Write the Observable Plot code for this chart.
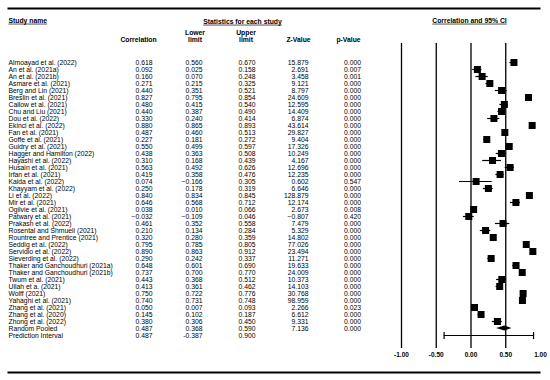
<!DOCTYPE html>
<html><head><meta charset="utf-8">
<script src="https://cdn.jsdelivr.net/npm/d3@7"></script>
<script src="https://cdn.jsdelivr.net/npm/@observablehq/plot@0.6"></script>
<style>
body{margin:0;background:#fff}
svg{font-family:"Liberation Sans",Arial,sans-serif}
</style>
</head><body><div id="chart"></div>
<script>
const studies = [
  "Almoayad et al. (2022)","An et al. (2021a)","An et al. (2021b)","Asmare et al. (2021)",
  "Berg and Lin (2021)","Breslin et al. (2021)","Callow et al. (2021)","Chu and Liu (2021)",
  "Dou et al. (2022)","Ekinci et al. (2022)","Fan et al. (2021)","Goffe et al. (2021)",
  "Guidry et al. (2021)","Hagger and Hamilton (2022)","Hayashi et al. (2022)","Husain et al. (2021)",
  "Irfan et al. (2021)","Kaida et al. (2022)","Khayyam et al. (2022)","Li et al. (2022)",
  "Mir et al. (2021)","Ogilvie et al. (2021)","Patwary et al. (2021)","Prakash et al. (2022)",
  "Rosental and Shmueli (2021)","Rountree and Prentice (2021)","Seddig et al. (2022)","Servidio et al. (2022)",
  "Sieverding et al. (2022)","Thaker and Ganchoudhuri (2021a)","Thaker and Ganchoudhuri (2021b)","Twum et al. (2021)",
  "Ullah et a. (2021)","Wolff (2021)","Yahaghi et al. (2021)","Zhang et al. (2021)",
  "Zhang et al. (2020)","Zhong et al. (2022)"
];
const correlation = [0.618,0.092,0.160,0.271,0.440,0.827,0.480,0.440,0.330,0.880,0.487,0.227,0.550,0.438,0.310,0.563,0.419,0.074,0.250,0.840,0.646,0.038,-0.032,0.461,0.210,0.320,0.795,0.890,0.290,0.648,0.737,0.443,0.413,0.750,0.740,0.050,0.145,0.380];
const lower = [0.560,0.025,0.070,0.215,0.351,0.795,0.415,0.387,0.240,0.865,0.460,0.181,0.499,0.363,0.168,0.492,0.358,-0.166,0.178,0.834,0.568,0.010,-0.109,0.352,0.134,0.280,0.785,0.863,0.242,0.601,0.700,0.368,0.361,0.722,0.731,0.007,0.102,0.306];
const upper = [0.670,0.158,0.248,0.325,0.521,0.854,0.540,0.490,0.414,0.893,0.513,0.272,0.597,0.508,0.439,0.626,0.476,0.305,0.319,0.845,0.712,0.066,0.046,0.558,0.284,0.359,0.805,0.912,0.337,0.690,0.770,0.512,0.462,0.776,0.748,0.093,0.187,0.450];
const zValue = [15.879,2.691,3.458,9.121,8.797,24.609,12.595,14.409,6.874,43.614,29.827,9.404,17.326,10.249,4.167,12.696,12.235,0.602,6.646,128.879,12.174,2.673,-0.807,7.479,5.329,14.802,77.026,23.494,11.271,19.633,24.009,10.373,14.103,30.768,98.959,2.266,6.612,9.331];
const pValue = [0.000,0.007,0.001,0.000,0.000,0.000,0.000,0.000,0.000,0.000,0.000,0.000,0.000,0.000,0.000,0.000,0.000,0.547,0.000,0.000,0.000,0.008,0.420,0.000,0.000,0.000,0.000,0.000,0.000,0.000,0.000,0.000,0.000,0.000,0.000,0.023,0.000,0.000];
const pooled = {name: "Random Pooled", r: 0.487, lo: 0.368, hi: 0.590, z: 7.136, p: 0.000};
const prediction = {name: "Prediction Interval", r: 0.487, lo: -0.387, hi: 0.900, z: null, p: null, hyphen: true};
const gridValues = [-1, -0.5, 0, 0.5];
const xTicks = [-1, -0.5, 0, 0.5, 1];

const rows = studies.map((name, i) => ({name, r: correlation[i], lo: lower[i], hi: upper[i], z: zValue[i], p: pValue[i]}));
const allRows = [...rows, pooled, prediction];

const fmt = (v, d) => v == null ? "" : (d.hyphen ? v.toFixed(3) : v.toFixed(3).replace("-", "\u2212"));
const FS = 6.8;
const col = (field, dx, anchor) => Plot.text(allRows, {
  y: "name", text: d => fmt(d[field], d), frameAnchor: "left", dx, textAnchor: anchor, fontSize: FS, fill: "#000"
});
const head = (label, dx, dy, extra = {}) => Plot.text([label], {
  frameAnchor: "top-left", lineAnchor: "middle", dx, dy, textAnchor: "middle", fontSize: FS, fontWeight: "bold", fill: "#000", ...extra
});
const tickSymbol = {draw(ctx, size) { const h = Math.sqrt(size) / 2; ctx.moveTo(0, -h); ctx.lineTo(0, h); }};

function pooledDiamond(index, scales) {
  const {x, y} = scales;
  const cy = y(pooled.name), h = 2.6;
  const pts = [[x(pooled.lo), cy], [x(pooled.r), cy - h], [x(pooled.hi), cy], [x(pooled.r), cy + h]];
  return d3.create("svg:path").attr("d", "M" + pts.map(p => p.join(",")).join("L") + "Z").attr("fill", "#000").node();
}

const chart = Plot.plot({
  width: 550, height: 380,
  marginLeft: 401, marginRight: 10, marginTop: 50.5, marginBottom: 34.5,
  style: {fontFamily: "Liberation Sans, Arial, sans-serif", fontSize: "6.8px", background: "#fff", color: "#000"},
  x: {domain: [-1, 1]},
  y: {type: "point", domain: allRows.map(d => d.name), padding: 0, axis: null},
  marks: [
    Plot.frame({anchor: "top", insetTop: -42.5, insetLeft: -393, insetRight: 1, stroke: "#000", strokeWidth: 2}),
    Plot.frame({anchor: "bottom", insetBottom: -26.5, insetLeft: -393, insetRight: 1, stroke: "#000", strokeWidth: 2}),
    Plot.ruleX(gridValues, {stroke: "#000", strokeWidth: 1.3, insetTop: -7.5, insetBottom: -2.5}),
    Plot.ruleY(rows, {y: "name", x1: "lo", x2: "hi", stroke: "#000", strokeWidth: 1.2}),
    Plot.dot(rows, {x: "r", y: "name", symbol: "square", r: 3.95, fill: "#000"}),
    pooledDiamond,
    Plot.ruleY([prediction], {y: "name", x1: "lo", x2: "hi", stroke: "#000", strokeWidth: 1.2}),
    Plot.dot([prediction], {x: "lo", y: "name", symbol: tickSymbol, r: 3.95, stroke: "#000", strokeWidth: 1.2}),
    Plot.dot([prediction], {x: "hi", y: "name", symbol: tickSymbol, r: 3.95, stroke: "#000", strokeWidth: 1.2}),
    Plot.axisX(xTicks, {tickFormat: d => d.toFixed(2), tickSize: 0, tickPadding: 6, fontWeight: "bold", fontSize: 6.5, fill: "#000"}),
    Plot.text(allRows, {y: "name", text: "name", frameAnchor: "left", dx: -393, textAnchor: "start", fontSize: FS, fill: "#000"}),
    col("r", -249, "end"),
    col("lo", -199, "end"),
    col("hi", -146, "end"),
    col("z", -93, "end"),
    col("p", -49, "middle"),
    head("Study name", -393, -30.5, {textAnchor: "start"}),
    head("Statistics for each study", -159, -29.5),
    head("Correlation and 95% CI", 68, -30.5),
    head("Correlation", -263, -11.5),
    head("Lower", -206.5, -17.7),
    head("limit", -206.5, -11.2),
    head("Upper", -155.5, -17.7),
    head("limit", -155.5, -11.2),
    head("Z-Value", -103, -11.3),
    head("p-Value", -53, -11.3)
  ]
});
const underlined = new Set(["Study name", "Statistics for each study", "Correlation and 95% CI"]);
d3.select(chart).selectAll("text").filter(function() { return underlined.has(this.textContent); })
  .attr("text-decoration", "underline");
document.getElementById("chart").appendChild(chart);
</script>
</body></html>
